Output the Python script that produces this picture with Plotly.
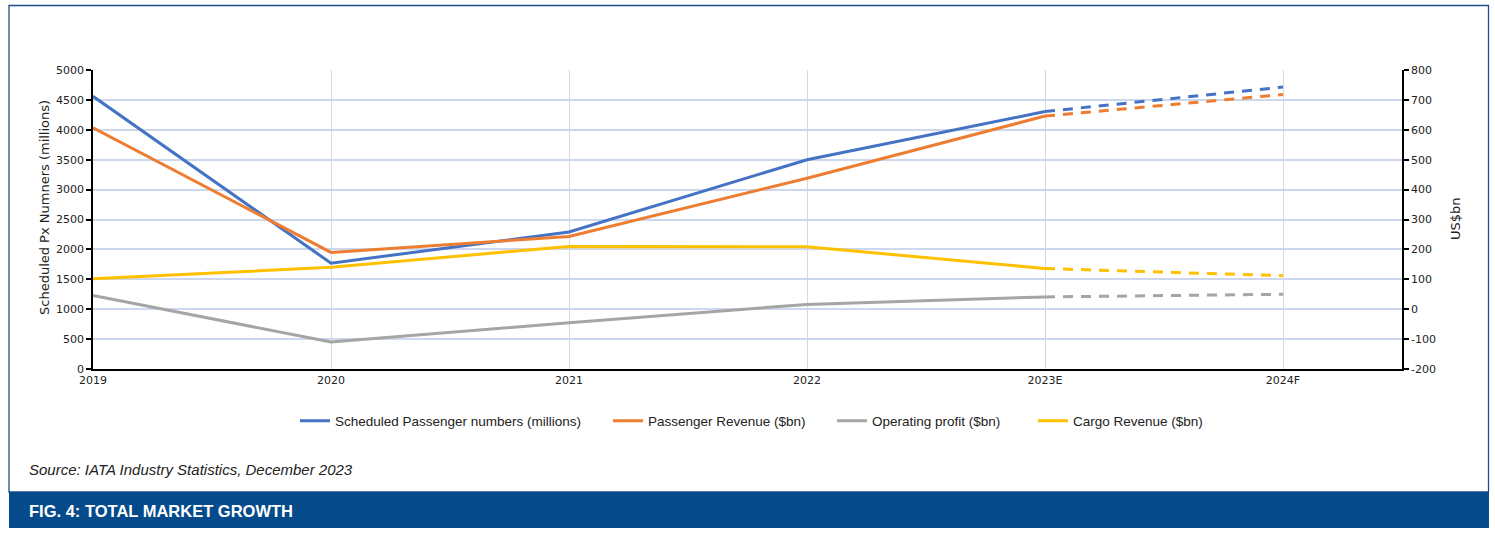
import plotly.graph_objects as go

# ---- data ----
years = ["2019", "2020", "2021", "2022", "2023E", "2024F"]
passengers_mn = [4560, 1770, 2290, 3500, 4305, 4715]      # left axis
passenger_revenue_bn = [607, 190, 243, 438, 646, 718]       # right axis
operating_profit_bn = [46, -110, -45, 16, 41, 50]           # right axis
cargo_revenue_bn = [102, 140, 210, 209, 136, 112]           # right axis

series_names = [
    "Scheduled Passenger numbers (millions)",
    "Passenger Revenue ($bn)",
    "Operating profit ($bn)",
    "Cargo Revenue ($bn)",
]
colors = ["#4472C4", "#ED7D31", "#A5A5A5", "#FFC000"]

left_ticks = list(range(0, 5001, 500))
right_ticks = list(range(-200, 801, 100))
right_tick_labels = [str(v) for v in right_ticks]

# ---- geometry helpers (pixel -> paper) ----
W, H = 1495, 536
L, R, T, B = 93, 1402, 70, 369
PW, PH = R - L, B - T


def px(x):
    return (x - L) / PW


def py(y):
    return (B - y) / PH


fig = go.Figure()

all_series = [
    (passengers_mn, "y"),
    (passenger_revenue_bn, "y2"),
    (operating_profit_bn, "y2"),
    (cargo_revenue_bn, "y2"),
]
legend_ids = ["legend", "legend2", "legend3", "legend4"]
legend_starts = [302, 615, 839, 1040]   # pixel x of each legend sample

# solid part (actuals up to 2023E)
for (vals, yax), name, col, lg in zip(all_series, series_names, colors, legend_ids):
    fig.add_trace(go.Scatter(
        x=years[:5], y=vals[:5], yaxis=yax, mode="lines", name=name,
        line=dict(color=col, width=3), legendgroup=name, legend=lg,
    ))
# dashed part (forecast 2023E -> 2024F)
for (vals, yax), name, col, lg in zip(all_series, series_names, colors, legend_ids):
    fig.add_trace(go.Scatter(
        x=years[4:], y=vals[4:], yaxis=yax, mode="lines", name=name,
        line=dict(color=col, width=3, dash="10px,8px"), legendgroup=name,
        legend=lg, showlegend=False,
    ))

tick_font = dict(family="DejaVu Sans", size=11, color="#222222")
legend_font = dict(family="Liberation Sans, Arial, sans-serif", size=13.5, color="#222222")

legends = {}
for lg, xs in zip(legend_ids, legend_starts):
    legends[lg] = dict(
        orientation="h", x=px(xs - 7), xanchor="left", y=py(421), yanchor="middle",
        font=legend_font, itemwidth=30, bgcolor="rgba(0,0,0,0)",
    )

fig.update_layout(
    width=W, height=H,
    margin=dict(l=L, r=W - R, t=T, b=H - B),
    paper_bgcolor="white", plot_bgcolor="white",
    showlegend=True,
    **legends,
    xaxis=dict(
        type="category", categoryorder="array", categoryarray=years,
        range=[0, 5.5], showgrid=True, gridcolor="#d9d9d9", gridwidth=1,
        showline=True, linecolor="black", linewidth=1.5,
        ticks="", tickfont=tick_font, zeroline=False,
    ),
    yaxis=dict(
        range=[0, 5000], tickvals=left_ticks, showgrid=True,
        gridcolor="#cdd8ee", gridwidth=1.5,
        showline=True, linecolor="black", linewidth=1.5,
        ticks="outside", ticklen=5, tickcolor="black", tickwidth=1.5,
        tickfont=tick_font, zeroline=False,
    ),
    yaxis2=dict(
        range=[-200, 800], tickvals=right_ticks, ticktext=right_tick_labels,
        overlaying="y", side="right",
        showgrid=False, showline=True, linecolor="black", linewidth=1.5,
        ticks="outside", ticklen=5, tickcolor="black", tickwidth=1.5,
        tickfont=tick_font, zeroline=False,
    ),
    shapes=[
        # outer frame
        dict(type="rect", xref="paper", yref="paper",
             x0=px(9), x1=px(1488.5), y0=py(492), y1=py(5.5),
             line=dict(color="#1f4e86", width=1.3), fillcolor="rgba(0,0,0,0)", layer="below"),
        # bottom banner
        dict(type="rect", xref="paper", yref="paper",
             x0=px(9), x1=px(1489), y0=py(528), y1=py(492),
             line=dict(width=0), fillcolor="#054a8b", layer="below"),
    ],
    annotations=[
        dict(text="Scheduled Px Numners (millions)", xref="paper", yref="paper",
             x=px(44), y=py(208), textangle=-90, showarrow=False,
             xanchor="center", yanchor="middle",
             font=dict(family="DejaVu Sans", size=13, color="#222222")),
        dict(text="US$bn", xref="paper", yref="paper",
             x=px(1455), y=py(219), textangle=-90, showarrow=False,
             xanchor="center", yanchor="middle",
             font=dict(family="DejaVu Sans", size=13, color="#222222")),
        dict(text="<i>Source: IATA Industry Statistics, December 2023</i>", xref="paper", yref="paper",
             x=px(27), y=py(469), showarrow=False, xanchor="left", yanchor="middle",
             font=dict(family="Liberation Sans, Arial, sans-serif", size=15, color="#222222")),
        dict(text="<b>FIG. 4: TOTAL MARKET GROWTH</b>", xref="paper", yref="paper",
             x=px(27), y=py(511), showarrow=False, xanchor="left", yanchor="middle",
             font=dict(family="Liberation Sans, Arial, sans-serif", size=16.5, color="white")),
    ],
)

fig.write_html("out.html", config={"displayModeBar": False},
               post_script="document.body.style.margin='0px';")
